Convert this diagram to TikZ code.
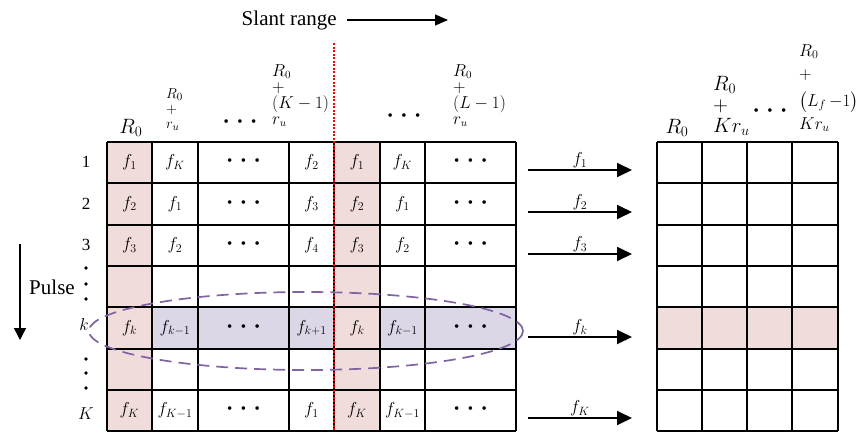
\documentclass[tikz,border=0pt]{standalone}
\usepackage{amsmath}
\usepackage{fontspec}
\setmainfont{Liberation Serif}
\usepackage{tikz}
\usetikzlibrary{
	arrows.meta,
	positioning
}
\definecolor{CellPink}{RGB}{240,220,219}
\definecolor{RowLilac}{RGB}{220,215,231}
\definecolor{RingPurple}{RGB}{128,100,162}
\newcommand{\threedots}{{\fontsize{15}{15}\selectfont •\hspace{8.5pt}•\hspace{8.5pt}•}}

\begin{document}
\begin{tikzpicture}[x=1pt, y=-1pt,
		cell/.style={font=\fontsize{17}{20}\selectfont, inner sep=0pt},
		lbl/.style={font=\fontsize{17}{20}\selectfont, inner sep=1pt},
		hdr/.style={font=\fontsize{16}{#1}\selectfont, align=left, inner sep=0pt, anchor=north west},
		hdr/.default=14,
		bighdr/.style={font=\fontsize{20}{#1}\selectfont, align=left, inner sep=0pt, anchor=north west},
		bighdr/.default=20,
		gridline/.style={line width=1.4pt},
		bigarrow/.style={-{Triangle[length=15pt,width=14pt]}, line width=1.8pt}]
	\useasboundingbox (0,0) rectangle (867,432);
	% shaded cells
	\fill[CellPink] (107,142) rectangle (152,431);
	\fill[CellPink] (334,142) rectangle (380,431);
	\fill[RowLilac] (152,307) rectangle (334,349);
	\fill[RowLilac] (380,307) rectangle (516,349);
	\fill[CellPink] (657,307) rectangle (838,349);
	% left grid
	\foreach \y in {142,183,225,266,307,349,390,431}
		\draw[gridline] (107,\y) -- (516,\y);
	\foreach \x in {107,152,198,289,334,380,425,516}
		\draw[gridline] (\x,142) -- (\x,431);
	% right grid
	\foreach \y in {142,183,225,266,307,349,390,431}
		\draw[gridline] (657,\y) -- (838,\y);
	\foreach \x in {657,702,747,792,838}
		\draw[gridline] (\x,142) -- (\x,431);
	\draw[red, line width=1.5pt, dash pattern=on 2pt off 1.5pt] (334,43) -- (334,431);
	% cell entries
	\foreach \x/\t [count=\i] in {129.5/$f_1$, 175/$f_K$, 243.5/\threedots, 311.5/$f_2$, 357/$f_1$, 402.5/$f_K$, 470.5/\threedots}
		\node[cell] (a\i) at (\x,162.5) {\t};
	\foreach \x/\t [count=\i] in {129.5/$f_2$, 175/$f_1$, 243.5/\threedots, 311.5/$f_3$, 357/$f_2$, 402.5/$f_1$, 470.5/\threedots}
		\node[cell] (b\i) at (\x,204) {\t};
	\foreach \x/\t [count=\i] in {129.5/$f_3$, 175/$f_2$, 243.5/\threedots, 311.5/$f_4$, 357/$f_3$, 402.5/$f_2$, 470.5/\threedots}
		\node[cell] (c\i) at (\x,245.5) {\t};
	\foreach \x/\t [count=\i] in {129.5/$f_k$, 175/$f_{k-1}$, 243.5/\threedots, 311.5/$f_{k+1}$, 357/$f_k$, 402.5/$f_{k-1}$, 470.5/\threedots}
		\node[cell] (k\i) at (\x,328) {\t};
	\foreach \x/\t [count=\i] in {129.5/$f_K$, 175/$f_{K-1}$, 243.5/\threedots, 311.5/$f_1$, 357/$f_K$, 402.5/$f_{K-1}$, 470.5/\threedots}
		\node[cell] (z\i) at (\x,410.5) {\t};
	% selected pulse
	\draw[RingPurple, line width=1.7pt, dash pattern=on 12pt off 7pt] (306,331) ellipse (217 and 39);
	% row labels
	\node[lbl] (r1) at (86,162) {1};
	\node[lbl] (r2) at (86,204) {2};
	\node[lbl] (r3) at (86,245) {3};
	\node[lbl] (rk) at (84,324) {$k$};
	\node[lbl] (rK) at (86,414) {$K$};
	\foreach \y in {268,284,299,359,373,388}
		\fill (86,\y) circle (1.8pt);
	\node[font=\fontsize{21}{24}\selectfont, inner sep=0pt] (pulse) at (52,287) {Pulse};
	\coordinate (ptop) at (20,244);
	\coordinate (pbot) at (20,340);
	\draw[-{Triangle[length=12pt,width=12pt]}, line width=1.4pt] (ptop) -- (pbot);
	% slant range
	\node[font=\fontsize{21}{24}\selectfont, inner sep=0pt, anchor=east] (slant) at (337,20) {Slant range};
	\coordinate (send) at (448,20);
	\draw[-{Triangle[length=13pt,width=11pt]}, line width=1.2pt] ([xshift=10pt]slant.east) -- (send);
	% column headers
	\node[bighdr, anchor=base] (h1) at (131,133) {$R_0$};
	\node[hdr, font=\fontsize{15}{15}\selectfont] (h2) at (166,88) {$R_0$\\$+$\\$r_u$};
	\node[cell] (h3) at (240,123) {\threedots};
	\node[hdr=16] (h4) at (272,64) {$R_0$\\$+$\\$(K-1)$\\$r_u$};
	\node[cell] (h5) at (404,117) {\threedots};
	\node[hdr=16] (h6) at (453,64) {$R_0$\\$+$\\$(L-1)$\\$r_u$};
	\node[bighdr, anchor=base] (g1) at (677,133) {$R_0$};
	\node[bighdr=21] (g2) at (713,76) {$R_0$\\$+$\\$Kr_u$};
	\node[cell] (g3) at (770,112) {\threedots};
	\node[bighdr, font=\fontsize{18}{23}\selectfont] (g4) at (799,44) {$R_0$\\$+$\\[4pt]$\bigl(L_f\,{-}1\bigr)$\\$Kr_u$};
	% range lines into the output grid
	\foreach \y/\t [count=\i] in {170/1, 212/2, 254/3, 337/k, 418/K} {
		\coordinate (s\i) at (528,\y);
		\coordinate (e\i) at (632,\y);
		\draw[bigarrow] (s\i) -- node[lbl, above] (f\i) {$f_\t$} (e\i);
	}
\end{tikzpicture}
\end{document}
